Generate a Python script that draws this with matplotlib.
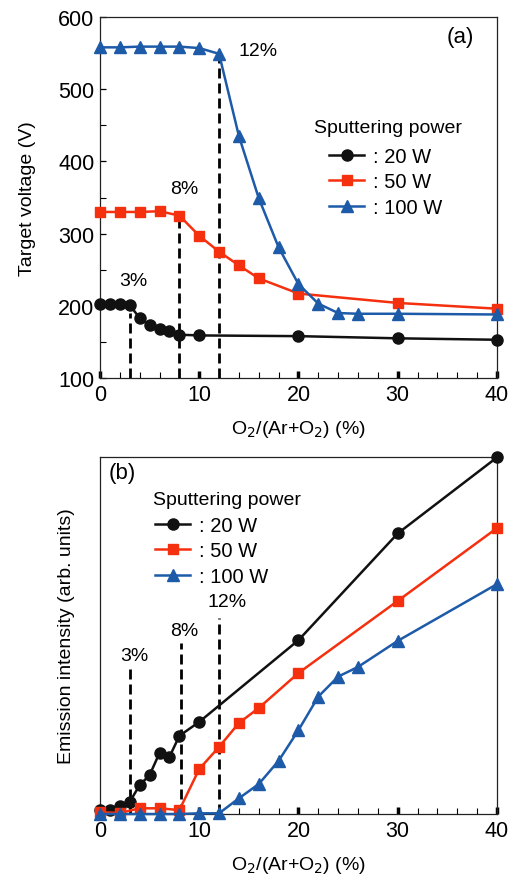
import numpy as np
import matplotlib.pyplot as plt
from matplotlib.ticker import MultipleLocator, NullLocator

plt.rcParams['font.family'] = ['Liberation Sans', 'DejaVu Sans']

#Colores de las series
negro = '#111111'
rojo = '#f5300f'
azul = '#1d5aa8'

#Datos del panel (a): voltaje del blanco
x20_a = [0, 1, 2, 3, 4, 5, 6, 7, 8, 10, 20, 30, 40]
v20_a = [203, 203, 202, 201, 183, 173, 168, 165, 160, 159, 158, 155, 153]
x50_a = [0, 2, 4, 6, 8, 10, 12, 14, 16, 20, 30, 40]
v50_a = [330, 330, 330, 331, 325, 297, 275, 256, 238, 217, 204, 196]
x100_a = [0, 2, 4, 6, 8, 10, 12, 14, 16, 18, 20, 22, 24, 26, 30, 40]
v100_a = [558, 558, 559, 559, 559, 557, 549, 435, 349, 281, 230, 203, 190, 189, 189, 188]

#Datos del panel (b): intensidad de emision
x20_b = [0, 1, 2, 3, 4, 5, 6, 7, 8, 10, 20, 30, 40]
e20_b = [1.0, 1.0, 2.3, 3.4, 8.1, 10.9, 17.1, 16.0, 21.9, 25.8, 48.7, 78.6, 99.9]
x50_b = [0, 2, 4, 6, 8, 10, 12, 14, 16, 20, 30, 40]
e50_b = [0.5, 0.3, 1.6, 1.6, 1.1, 12.6, 18.8, 25.5, 29.7, 39.5, 59.7, 80.1]
x100_b = [0, 2, 4, 6, 8, 10, 12, 14, 16, 18, 20, 22, 24, 26, 30, 40]
e100_b = [0, 0, 0, 0, 0, 0.2, 0.2, 4.4, 8.4, 14.9, 23.5, 32.9, 38.5, 41.2, 48.5, 64.4]

#Lineas de transicion y sus etiquetas
trans_x_a = [3, 8, 12]
trans_top_a = [190, 323, 549]
trans_lbl = ['3%', '8%', '12%']
lbl_pos_a = [(3.4, 235), (8.5, 362), (15.9, 553)]
trans_x_b = [3, 8.2, 12]
trans_top_b = [40.6, 48.0, 54.9]
lbl_pos_b = [(3.5, 44.3), (8.5, 51.3), (12.8, 59.4)]

etiquetas = [': 20 W', ': 50 W', ': 100 W']

fig = plt.figure(figsize=(5.18, 8.79), dpi=100)
ax1 = fig.add_axes([0.193, 0.5688, 0.7664, 0.4107])
ax2 = fig.add_axes([0.193, 0.0728, 0.7664, 0.4061])

estilo = dict(lw=1.8, clip_on=False, zorder=3)
guiones = dict(color='black', ls=(0, (3.6, 1.8)), lw=2, zorder=2)


def dibujar(ax, series):
    lineas = []
    for (x, y, c, m, ms) in series:
        l, = ax.plot(x, y, color=c, marker=m, mec=c, mfc=c, ms=ms, **estilo)
        lineas.append(l)
    return lineas


l1 = dibujar(ax1, [(x20_a, v20_a, negro, 'o', 8),
                   (x50_a, v50_a, rojo, 's', 7.2),
                   (x100_a, v100_a, azul, '^', 8.5)])
l2 = dibujar(ax2, [(x20_b, e20_b, negro, 'o', 8),
                   (x50_b, e50_b, rojo, 's', 7.2),
                   (x100_b, e100_b, azul, '^', 8.5)])

#Lineas punteadas verticales
for xv, yt in zip(trans_x_a, trans_top_a):
    ax1.plot([xv, xv], [100, yt], **guiones)
for (px, py), t in zip(lbl_pos_a, trans_lbl):
    ax1.text(px, py, t, fontsize=14, ha='center', va='center')
for xv, yt in zip(trans_x_b, trans_top_b):
    ax2.plot([xv, xv], [0, yt], **guiones)
for (px, py), t in zip(lbl_pos_b, trans_lbl):
    ax2.text(px, py, t, fontsize=14, ha='center', va='center')

ax1.set_xlim(0, 40)
ax1.set_ylim(100, 600)
ax2.set_xlim(0, 40)
ax2.set_ylim(0, 100)

for ax in (ax1, ax2):
    ax.xaxis.set_major_locator(MultipleLocator(10))
    ax.xaxis.set_minor_locator(MultipleLocator(2))
    ax.tick_params(axis='both', which='major', direction='in', length=5, width=2.5,
                   labelsize=15.5, pad=4)
    ax.tick_params(axis='both', which='minor', direction='in', length=4, width=0.8)
    ax.set_xticks([0, 10, 20, 30, 40])
    ax.set_xlabel(r'O$_2$/(Ar+O$_2$) (%)', fontsize=14, labelpad=10)
    for s in ax.spines.values():
        s.set_linewidth(0.9)
        s.set_color('#222222')

ax1.yaxis.set_major_locator(MultipleLocator(100))
ax1.yaxis.set_minor_locator(MultipleLocator(50))
ax1.tick_params(axis='y', which='major', width=0.9, length=4)
ax1.set_ylabel('Target voltage (V)', fontsize=14, labelpad=16)

ax2.yaxis.set_major_locator(NullLocator())
ax2.yaxis.set_minor_locator(NullLocator())
ax2.set_ylabel('Emission intensity (arb. units)', fontsize=14, labelpad=18)

ax1.text(0.907, 0.947, '(a)', transform=ax1.transAxes, fontsize=16, ha='center', va='center')
ax2.text(0.055, 0.958, '(b)', transform=ax2.transAxes, fontsize=16, ha='center', va='center')

#Leyendas (titulo como texto aparte)
ax1.text(0.539, 0.695, 'Sputtering power', transform=ax1.transAxes, fontsize=14,
         ha='left', va='center')
ax1.legend(l1, etiquetas, loc='upper left', bbox_to_anchor=(0.577, 0.64),
           frameon=False, fontsize=14.5, handlelength=1.75, handletextpad=0.45,
           labelspacing=0.32, borderpad=0, borderaxespad=0)
ax2.text(0.1335, 0.882, 'Sputtering power', transform=ax2.transAxes, fontsize=14,
         ha='left', va='center')
ax2.legend(l2, etiquetas, loc='upper left', bbox_to_anchor=(0.1385, 0.835),
           frameon=False, fontsize=14.5, handlelength=1.75, handletextpad=0.45,
           labelspacing=0.32, borderpad=0, borderaxespad=0)

fig.savefig('out.png', dpi=100)
